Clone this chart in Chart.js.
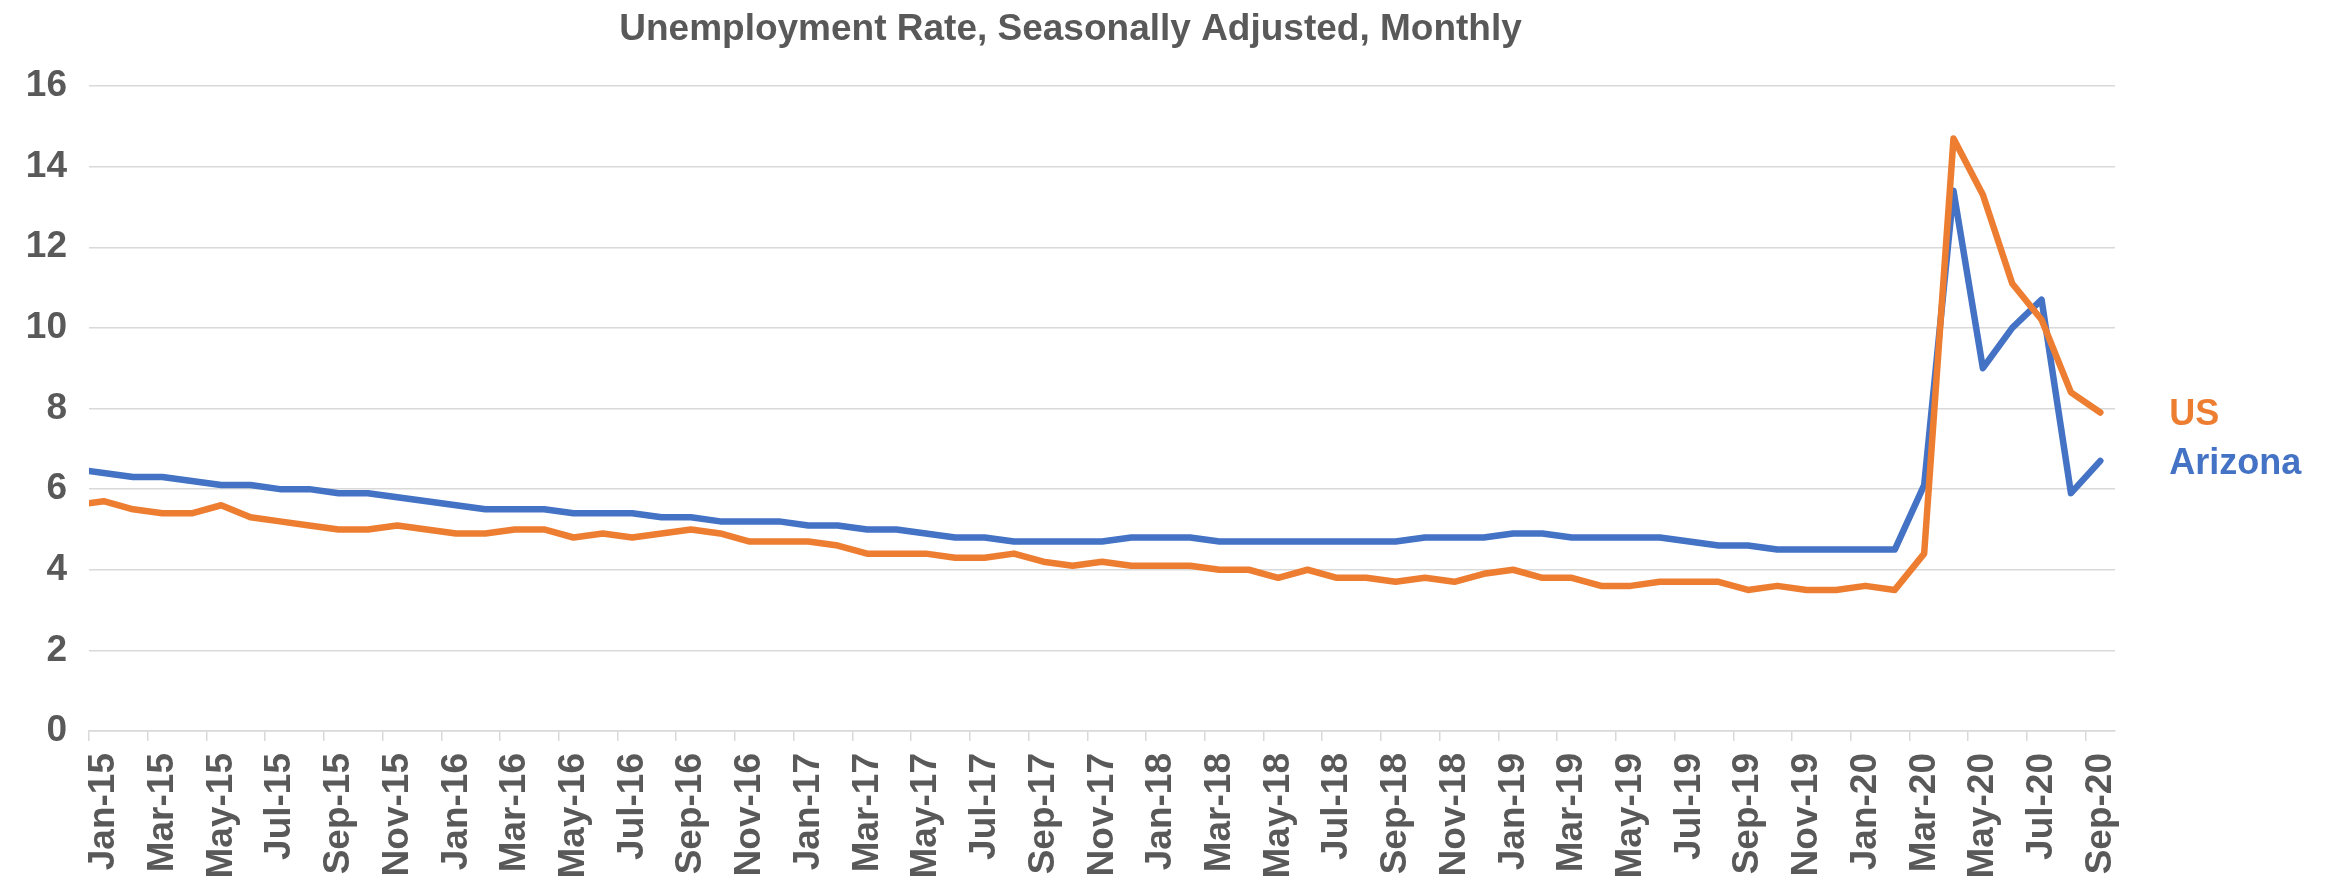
<!DOCTYPE html>
<html>
<head>
<meta charset="utf-8">
<title>Unemployment Rate</title>
<script src="https://cdn.jsdelivr.net/npm/chart.js@4.4.1/dist/chart.umd.min.js"></script>
<style>
    html, body { margin: 0; padding: 0; background: #ffffff; }
    #chart-wrap { width: 2325px; height: 881px; position: relative; }
</style>
</head>
<body>
<div id="chart-wrap"><canvas id="chart-unemployment"></canvas></div>
<script>
// monthly observations, Dec-14 sits just left of the axis start and is clipped
const months = [
    'Dec-14',
    'Jan-15', 'Feb-15', 'Mar-15', 'Apr-15', 'May-15', 'Jun-15', 'Jul-15', 'Aug-15', 'Sep-15', 'Oct-15', 'Nov-15', 'Dec-15',
    'Jan-16', 'Feb-16', 'Mar-16', 'Apr-16', 'May-16', 'Jun-16', 'Jul-16', 'Aug-16', 'Sep-16', 'Oct-16', 'Nov-16', 'Dec-16',
    'Jan-17', 'Feb-17', 'Mar-17', 'Apr-17', 'May-17', 'Jun-17', 'Jul-17', 'Aug-17', 'Sep-17', 'Oct-17', 'Nov-17', 'Dec-17',
    'Jan-18', 'Feb-18', 'Mar-18', 'Apr-18', 'May-18', 'Jun-18', 'Jul-18', 'Aug-18', 'Sep-18', 'Oct-18', 'Nov-18', 'Dec-18',
    'Jan-19', 'Feb-19', 'Mar-19', 'Apr-19', 'May-19', 'Jun-19', 'Jul-19', 'Aug-19', 'Sep-19', 'Oct-19', 'Nov-19', 'Dec-19',
    'Jan-20', 'Feb-20', 'Mar-20', 'Apr-20', 'May-20', 'Jun-20', 'Jul-20', 'Aug-20', 'Sep-20'
];

const usRate = [
    5.6,
    5.7, 5.5, 5.4, 5.4, 5.6, 5.3, 5.2, 5.1, 5.0, 5.0, 5.1, 5.0,
    4.9, 4.9, 5.0, 5.0, 4.8, 4.9, 4.8, 4.9, 5.0, 4.9, 4.7, 4.7,
    4.7, 4.6, 4.4, 4.4, 4.4, 4.3, 4.3, 4.4, 4.2, 4.1, 4.2, 4.1,
    4.1, 4.1, 4.0, 4.0, 3.8, 4.0, 3.8, 3.8, 3.7, 3.8, 3.7, 3.9,
    4.0, 3.8, 3.8, 3.6, 3.6, 3.7, 3.7, 3.7, 3.5, 3.6, 3.5, 3.5,
    3.6, 3.5, 4.4, 14.7, 13.3, 11.1, 10.2, 8.4, 7.9
];

const arizonaRate = [
    6.5,
    6.4, 6.3, 6.3, 6.2, 6.1, 6.1, 6.0, 6.0, 5.9, 5.9, 5.8, 5.7,
    5.6, 5.5, 5.5, 5.5, 5.4, 5.4, 5.4, 5.3, 5.3, 5.2, 5.2, 5.2,
    5.1, 5.1, 5.0, 5.0, 4.9, 4.8, 4.8, 4.7, 4.7, 4.7, 4.7, 4.8,
    4.8, 4.8, 4.7, 4.7, 4.7, 4.7, 4.7, 4.7, 4.7, 4.8, 4.8, 4.8,
    4.9, 4.9, 4.8, 4.8, 4.8, 4.8, 4.7, 4.6, 4.6, 4.5, 4.5, 4.5,
    4.5, 4.5, 6.1, 13.4, 9.0, 10.0, 10.7, 5.9, 6.7
];

// one label per tick, every second month starting Jan-15
const tickLabels = [
    'Jan-15', 'Mar-15', 'May-15', 'Jul-15', 'Sep-15', 'Nov-15',
    'Jan-16', 'Mar-16', 'May-16', 'Jul-16', 'Sep-16', 'Nov-16',
    'Jan-17', 'Mar-17', 'May-17', 'Jul-17', 'Sep-17', 'Nov-17',
    'Jan-18', 'Mar-18', 'May-18', 'Jul-18', 'Sep-18', 'Nov-18',
    'Jan-19', 'Mar-19', 'May-19', 'Jul-19', 'Sep-19', 'Nov-19',
    'Jan-20', 'Mar-20', 'May-20', 'Jul-20', 'Sep-20'
];

const textGrey = '#595959';
const gridGrey = '#d9d9d9';
const fontFamily = '"Liberation Sans", Arial, Helvetica, sans-serif';

// months are plotted mid-month: Jan-15 sits half a unit right of the axis start
const toPoints = values => values.map((v, i) => ({ x: i - 0.5, y: v }));

// series name written right of the last point of each line
const endLabels = {
    id: 'endLabels',
    afterDatasetsDraw(chart) {
        const ctx = chart.ctx;
        ctx.save();
        ctx.font = 'bold 36px ' + fontFamily;
        ctx.textAlign = 'left';
        ctx.textBaseline = 'middle';
        chart.data.datasets.forEach((ds, idx) => {
            const meta = chart.getDatasetMeta(idx);
            const last = meta.data[meta.data.length - 1];
            ctx.fillStyle = ds.borderColor;
            ctx.fillText(ds.label, last.x + 69, last.y + 3);
        });
        ctx.restore();
    }
};

Chart.defaults.font.family = fontFamily;
Chart.defaults.color = textGrey;

const lineStyle = {
    borderWidth: 6.5,
    borderCapStyle: 'round',
    borderJoinStyle: 'round',
    pointRadius: 0,
    fill: false,
    tension: 0,
    clip: 0,
};

new Chart(document.getElementById('chart-unemployment'), {
    type: 'line',
    data: {
        datasets: [
            {
                ...lineStyle,
                label: 'US',
                data: toPoints(usRate),
                borderColor: '#ED7D31',
                backgroundColor: '#ED7D31',
            },
            {
                ...lineStyle,
                label: 'Arizona',
                data: toPoints(arizonaRate),
                borderColor: '#4472C4',
                backgroundColor: '#4472C4',
            }
        ]
    },
    options: {
        responsive: true,
        maintainAspectRatio: false,
        devicePixelRatio: 1,
        animation: false,
        layout: {
            padding: { left: 26, right: 210, top: 0, bottom: 0 }
        },
        plugins: {
            legend: { display: false },
            tooltip: { enabled: false },
            title: {
                display: true,
                text: 'Unemployment Rate, Seasonally Adjusted, Monthly',
                color: textGrey,
                font: { size: 37, weight: 'bold' },
                padding: { top: 8, bottom: 33.6 }
            }
        },
        scales: {
            x: {
                type: 'linear',
                min: 0,
                max: 69,
                afterBuildTicks: scale => {
                    scale.ticks = tickLabels.map((_, k) => ({ value: k * 2 }));
                },
                afterFit: scale => { scale.height = 150; },
                ticks: {
                    autoSkip: false,
                    minRotation: 90,
                    maxRotation: 90,
                    labelOffset: 15,
                    padding: 12,
                    color: textGrey,
                    font: { size: 37, weight: 'bold' },
                    callback: value => tickLabels[value / 2]
                },
                grid: {
                    drawOnChartArea: false,
                    drawTicks: true,
                    tickLength: 10,
                    color: gridGrey,
                    lineWidth: 1.5
                },
                border: { display: true, color: gridGrey, width: 1.5 }
            },
            y: {
                min: 0,
                max: 16,
                afterFit: scale => { scale.width = 63; },
                ticks: {
                    stepSize: 2,
                    padding: 22,
                    color: textGrey,
                    font: { size: 37, weight: 'bold' }
                },
                grid: {
                    color: gridGrey,
                    lineWidth: 1.5,
                    drawTicks: false
                },
                border: { display: false }
            }
        }
    },
    plugins: [endLabels]
});
</script>
</body>
</html>
